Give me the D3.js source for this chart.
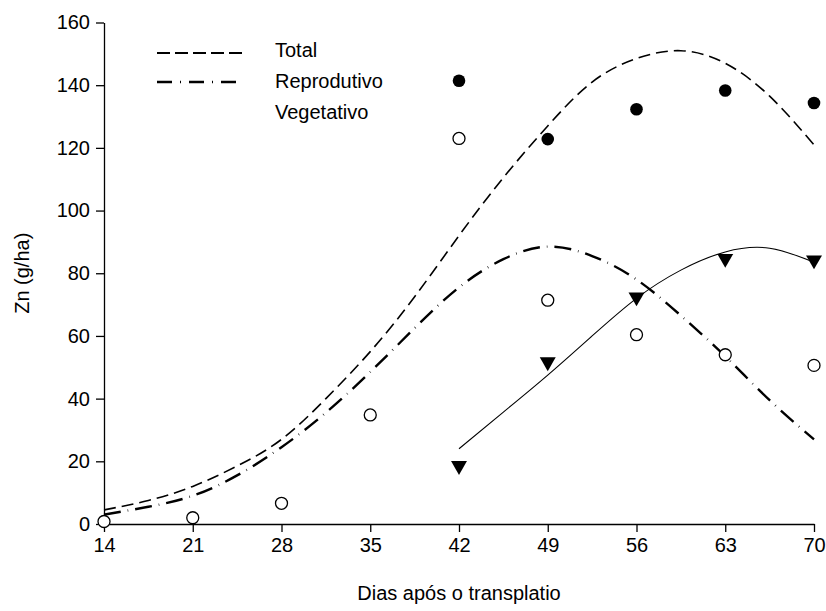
<!DOCTYPE html>
<html>
<head>
<meta charset="utf-8">
<script src="https://cdn.jsdelivr.net/npm/d3@7"></script>
<style>
  body { margin: 0; background: #fff; }
  svg { display: block; font-family: "Liberation Sans", Arial, sans-serif; }
</style>
</head>
<body>
<div id="chart"></div>
<script>
// observed points
const obsDays = [14, 21, 28, 35, 42, 49, 56, 63, 70];
const totalObsDays = [42, 49, 56, 63, 70];
const totalObs = [141.4, 122.8, 132.3, 138.3, 134.3];
const reproObs = [0.8, 2.0, 6.6, 34.8, 123.0, 71.4, 60.4, 54.0, 50.6];
const vegObsDays = [42, 49, 56, 63, 70];
const vegObs = [18.6, 51.7, 72.4, 84.7, 84.2];

// fitted curves
const curveDays = [14, 17.5, 21, 24.5, 28, 31.5, 35, 38.5, 42, 45.5, 49, 52.5, 56, 59.5, 63, 66.5, 70];
const totalFit = [4.5, 7.5, 12, 18.5, 27, 40, 55, 72.5, 92, 110.5, 127, 141, 148.5, 151, 147, 136.5, 121];
const reproFit = [3, 5.5, 9, 15.5, 24.5, 35.5, 48.5, 62.5, 75.5, 84.5, 88.5, 85.5, 78, 66.5, 53.5, 39.5, 27];
const vegDays = [42, 45.5, 49, 52.5, 56, 59.5, 63, 66.5, 70];
const vegFit = [24, 35.7, 47.5, 60, 72, 81, 86.8, 88, 83.5];

const xTicks = [14, 21, 28, 35, 42, 49, 56, 63, 70];
const yTicks = [0, 20, 40, 60, 80, 100, 120, 140, 160];
const legendLabels = ["Total", "Reprodutivo", "Vegetativo"];

const width = 826, height = 611;
const margin = {top: 22.5, right: 12, bottom: 87, left: 104};

const x = d3.scaleLinear().domain([14, 70]).range([margin.left, width - margin.right]);
const y = d3.scaleLinear().domain([0, 160]).range([height - margin.bottom, margin.top]);

const svg = d3.select("#chart").append("svg")
    .attr("width", width)
    .attr("height", height);

// axes
const xAxis = svg.append("g")
    .attr("transform", `translate(0,${y(0)})`)
    .call(d3.axisBottom(x).tickValues(xTicks).tickSize(8).tickPadding(6).tickSizeOuter(0));
const yAxis = svg.append("g")
    .attr("transform", `translate(${x(14)},0)`)
    .call(d3.axisLeft(y).tickValues(yTicks).tickSize(8).tickPadding(6).tickSizeOuter(0));
[xAxis, yAxis].forEach(g => {
    g.selectAll("text").attr("font-size", 20).attr("font-family", "Liberation Sans, Arial, sans-serif").attr("fill", "#000");
    g.selectAll("line, path").attr("stroke", "#000").attr("stroke-width", 1.3);
});

svg.append("text")
    .attr("x", (x(14) + x(70)) / 2)
    .attr("y", 600)
    .attr("text-anchor", "middle")
    .attr("font-size", 20)
    .text("Dias após o transplatio");

svg.append("text")
    .attr("transform", `translate(29,${y(80)}) rotate(-90)`)
    .attr("text-anchor", "middle")
    .attr("font-size", 20)
    .text("Zn (g/ha)");

// curves
const line = d3.line().curve(d3.curveNatural);
const styles = [
    {days: curveDays, vals: totalFit, dash: "12,6", w: 1.6},
    {days: curveDays, vals: reproFit, dash: "17,7,0.6,7", w: 2.4},
    {days: vegDays, vals: vegFit, dash: null, w: 1.1}
];
styles.forEach(s => {
    svg.append("path")
        .attr("d", line(s.days.map((d, i) => [x(d), y(s.vals[i])])))
        .attr("fill", "none")
        .attr("stroke", "#000")
        .attr("stroke-width", s.w)
        .attr("stroke-dasharray", s.dash);
});

// points
svg.append("g").selectAll("circle.tot")
    .data(totalObsDays)
    .join("circle")
    .attr("cx", d => x(d))
    .attr("cy", (d, i) => y(totalObs[i]))
    .attr("r", 6.3)
    .attr("fill", "#000");

svg.append("g").selectAll("circle.rep")
    .data(obsDays)
    .join("circle")
    .attr("cx", d => x(d))
    .attr("cy", (d, i) => y(reproObs[i]))
    .attr("r", 6)
    .attr("fill", "#fff")
    .attr("stroke", "#000")
    .attr("stroke-width", 1.3);

const tri = d3.symbol().type(d3.symbolTriangle).size(110);
svg.append("g").selectAll("path")
    .data(vegObsDays)
    .join("path")
    .attr("d", tri)
    .attr("transform", (d, i) => `translate(${x(d)},${y(vegObs[i])}) rotate(180)`)
    .attr("fill", "#000");

// legend
const legend = svg.append("g");
const lineY = [53, 82];
const textY = [50, 81, 112];
legendLabels.forEach((lab, i) => {
    if (i < 2) {
        legend.append("line")
            .attr("x1", 157).attr("x2", 243)
            .attr("y1", lineY[i]).attr("y2", lineY[i])
            .attr("stroke", "#000")
            .attr("stroke-width", i === 0 ? 1.8 : 2.4)
            .attr("stroke-dasharray", i === 0 ? "13,5" : "15,8,1,8");
    }
    legend.append("text")
        .attr("x", 275)
        .attr("y", textY[i])
        .attr("dy", "0.35em")
        .attr("font-size", 20)
        .text(lab);
});
</script>
</body>
</html>
